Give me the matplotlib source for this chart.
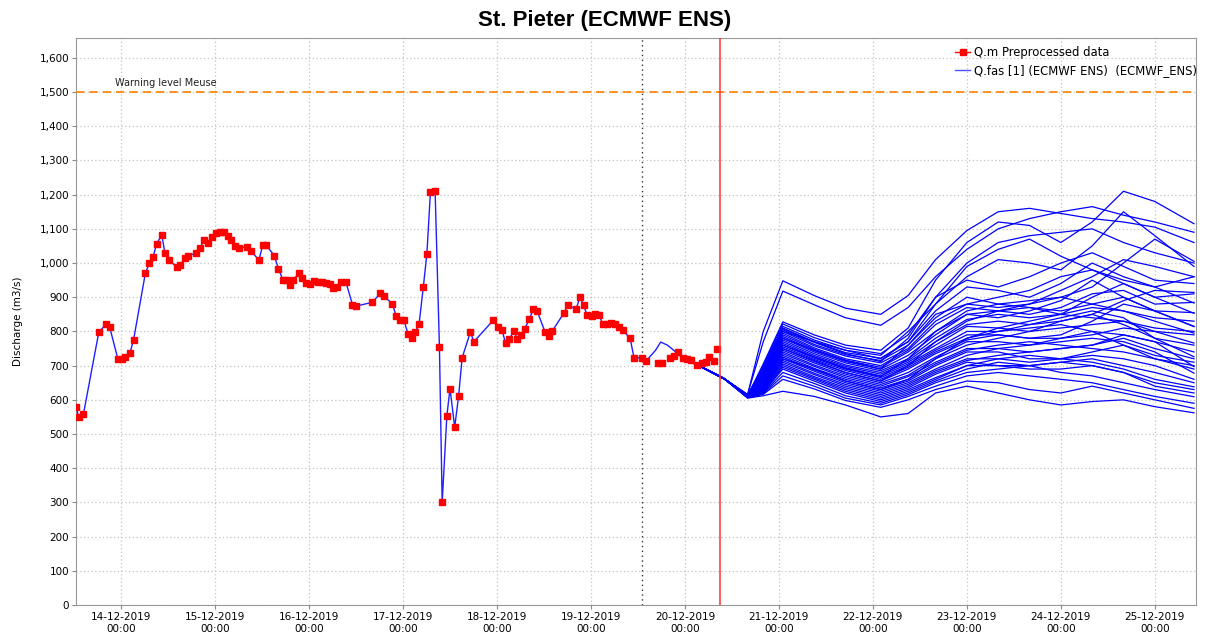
import matplotlib
matplotlib.use("Agg")
import matplotlib.pyplot as plt
import matplotlib.dates as mdates
from matplotlib.lines import Line2D
from matplotlib.ticker import FuncFormatter, MultipleLocator
import pandas as pd

# 관측 데이터 (14-12-2019 00:00 기준 시간)
base = pd.Timestamp("2019-12-14 00:00")
obs_hours = [-11.5, -10.8, -9.6, -5.7, -3.8, -2.9, -0.8, 0.3, 1.1, 2.3, 3.2,
             6.2, 7.2, 8.2, 9.1, 10.4, 11.2, 12.3, 14.2, 15.1, 16.3, 17.2,
             19.1, 20.2, 21.1, 22.2, 23.2, 24.2, 25.2, 26.2, 27.2, 28.1, 29.1,
             30.2, 32.2, 33.1, 35.2, 36.2, 37.0, 39.1, 40.2, 41.4, 42.1, 43.1,
             44.0, 45.4, 46.3, 47.2, 48.2, 49.3, 50.4, 51.3, 52.4, 53.4, 54.2,
             55.1, 56.1, 57.4, 59.1, 60.0, 64.1, 66.2, 67.1, 69.3, 70.2, 71.2,
             72.2, 73.3, 74.3, 75.1, 76.1, 77.2, 78.1, 79.0, 80.2, 81.3, 82.0,
             83.2, 84.0, 85.2, 86.2, 87.1, 89.2, 90.1, 95.0, 96.3, 97.3, 98.2,
             99.1, 100.3, 101.2, 102.2, 103.1, 104.2, 105.3, 106.2, 108.3, 109.2,
             110.1, 113.1, 114.1, 116.2, 117.2, 118.1, 119.0, 120.2, 121.1,
             122.0, 123.1, 124.1, 125.1, 126.1, 127.1, 128.1, 130.0, 131.0,
             133.1, 134.1, 137.2, 138.2, 140.3, 141.2, 142.1, 143.5, 144.6,
             145.5, 147.2, 148.4, 149.3, 150.1, 151.3, 152.2]
obs_values = [578, 549, 559, 797, 822, 812, 719, 719, 726, 738, 776,
              970, 999, 1019, 1057, 1082, 1029, 1009, 988, 994, 1015, 1022,
              1028, 1044, 1067, 1058, 1075, 1087, 1090, 1090, 1079, 1066, 1050,
              1044, 1048, 1036, 1009, 1053, 1053, 1022, 983, 949, 949, 936,
              951, 970, 955, 943, 939, 948, 946, 945, 942, 938, 927,
              931, 945, 945, 878, 874, 885, 911, 903, 881, 846, 834,
              834, 792, 781, 797, 822, 931, 1027, 1207, 1210, 755, 300,
              553, 633, 520, 611, 723, 798, 770, 832, 812, 804, 765,
              777, 801, 777, 791, 808, 835, 865, 861, 798, 788,
              801, 854, 877, 865, 901, 877, 848, 845, 850,
              848, 821, 821, 826, 821, 812, 804, 780, 723,
              723, 714, 707, 707, 723, 728, 740, 723, 720,
              717, 702, 709, 711, 726, 714, 748]

# 시뮬레이션 라인: 19-12 13:00 이후 관측과 다른 값
sim_until = 134.1
sim_extra_hours = [136.5, 137.8, 139.5, 140.5, 143.0, 145.0, 147.0]
sim_extra_values = [745, 769, 760, 751, 726, 712, 703]

# 앙상블 (20-12-2019 00:00 기준 시간)
ens_start = pd.Timestamp("2019-12-20 00:00")
ens_hours = [3, 10, 16, 20, 25, 33, 41, 50, 57, 64, 72, 80, 88, 96, 104, 112, 120, 130]
ens_members = [
    [703, 662, 615, 800, 948, 905, 868, 850, 905, 1010, 1095, 1150, 1160, 1145, 1130, 1120, 1105, 1060],
    [703, 662, 616, 770, 918, 878, 840, 818, 870, 960, 1040, 1100, 1130, 1150, 1165, 1140, 1120, 1090],
    [703, 662, 612, 705, 828, 790, 760, 745, 810, 950, 1060, 1120, 1110, 1060, 1120, 1210, 1180, 1115],
    [703, 662, 612, 700, 822, 782, 752, 735, 790, 900, 1000, 1060, 1080, 1090, 1100, 1060, 1030, 1000],
    [703, 662, 613, 695, 815, 775, 745, 730, 800, 880, 960, 1010, 1000, 980, 1050, 1150, 1080, 990],
    [703, 662, 614, 690, 810, 770, 738, 722, 770, 860, 930, 920, 900, 940, 1000, 960, 930, 960],
    [703, 662, 612, 685, 805, 762, 732, 715, 760, 840, 900, 880, 890, 900, 930, 1000, 1070, 1005],
    [703, 662, 611, 680, 800, 758, 728, 708, 750, 830, 880, 900, 920, 960, 980, 940, 900, 910],
    [703, 662, 613, 675, 795, 752, 720, 700, 745, 820, 870, 860, 850, 870, 910, 920, 880, 885],
    [703, 662, 612, 670, 790, 748, 716, 695, 740, 800, 860, 880, 870, 860, 880, 900, 860, 855],
    [703, 662, 611, 668, 785, 744, 712, 690, 730, 790, 850, 840, 860, 890, 950, 900, 860, 815],
    [703, 662, 612, 665, 780, 740, 708, 685, 720, 780, 835, 850, 840, 850, 870, 860, 830, 795],
    [703, 662, 611, 660, 775, 735, 702, 680, 715, 770, 820, 830, 820, 830, 850, 890, 920, 914],
    [703, 662, 610, 658, 770, 730, 698, 675, 710, 760, 815, 810, 800, 810, 820, 830, 800, 766],
    [703, 662, 612, 655, 765, 726, 694, 670, 705, 750, 800, 800, 820, 840, 860, 840, 780, 726],
    [703, 662, 611, 652, 760, 722, 690, 665, 700, 745, 790, 790, 780, 780, 790, 810, 800, 790],
    [703, 662, 610, 650, 755, 718, 686, 660, 695, 740, 780, 800, 810, 820, 800, 790, 770, 697],
    [703, 662, 612, 648, 750, 712, 680, 655, 690, 735, 775, 790, 780, 790, 830, 880, 860, 814],
    [703, 662, 611, 645, 745, 708, 675, 650, 680, 725, 770, 770, 760, 770, 780, 770, 740, 678],
    [703, 662, 610, 643, 740, 702, 670, 645, 672, 720, 760, 780, 800, 830, 850, 820, 780, 760],
    [703, 662, 611, 640, 735, 698, 665, 640, 668, 710, 750, 750, 740, 750, 760, 790, 770, 740],
    [703, 662, 610, 638, 730, 692, 660, 635, 660, 705, 745, 760, 770, 760, 750, 740, 720, 700],
    [703, 662, 609, 636, 725, 688, 655, 630, 655, 700, 740, 740, 720, 720, 740, 760, 730, 710],
    [703, 662, 610, 634, 720, 684, 650, 625, 650, 690, 730, 750, 760, 780, 800, 760, 720, 690],
    [703, 662, 609, 632, 715, 678, 645, 620, 645, 685, 720, 720, 710, 720, 730, 720, 700, 660],
    [703, 662, 608, 630, 710, 674, 640, 615, 640, 680, 715, 730, 740, 750, 760, 780, 750, 720],
    [703, 662, 609, 628, 705, 668, 635, 610, 635, 675, 710, 700, 700, 710, 720, 700, 680, 650],
    [703, 662, 608, 626, 700, 664, 630, 605, 630, 665, 700, 720, 730, 720, 710, 690, 660, 638],
    [703, 662, 607, 624, 695, 660, 625, 600, 625, 660, 700, 700, 690, 690, 700, 680, 650, 630],
    [703, 662, 608, 622, 690, 655, 620, 595, 620, 655, 690, 710, 700, 680, 670, 650, 630, 609],
    [703, 662, 607, 620, 680, 648, 612, 590, 615, 650, 680, 690, 700, 710, 700, 680, 640, 620],
    [703, 662, 606, 618, 670, 640, 605, 585, 610, 640, 670, 680, 670, 660, 650, 630, 610, 590],
    [703, 662, 606, 616, 660, 632, 598, 578, 600, 630, 655, 650, 630, 620, 640, 620, 600, 575],
    [703, 662, 605, 612, 625, 610, 585, 550, 560, 620, 640, 620, 600, 585, 595, 600, 580, 562],
    [703, 662, 611, 675, 800, 770, 745, 720, 770, 880, 990, 1040, 1070, 1020, 980, 950, 930, 883],
    [703, 662, 612, 680, 808, 768, 735, 712, 780, 900, 950, 930, 960, 1000, 1030, 990, 950, 940],
    [703, 662, 610, 660, 780, 745, 715, 690, 760, 850, 880, 870, 880, 920, 960, 1010, 990, 960],
    [703, 662, 609, 650, 760, 725, 692, 668, 720, 800, 850, 860, 880, 900, 880, 860, 840, 830],
    [703, 662, 611, 640, 750, 715, 680, 655, 700, 770, 830, 860, 870, 850, 840, 830, 810, 800],
    [703, 662, 610, 630, 720, 690, 655, 630, 660, 720, 780, 810, 830, 850, 900, 940, 900, 853],
]

warning_level = 1500
forecast_time = pd.Timestamp("2019-12-20 09:00")
state_time = pd.Timestamp("2019-12-19 13:00")

obs_t = base + pd.to_timedelta(obs_hours, unit="h")
sim_h = [h for h in obs_hours if h <= sim_until] + sim_extra_hours
sim_v = [v for h, v in zip(obs_hours, obs_values) if h <= sim_until] + sim_extra_values
sim_t = base + pd.to_timedelta(sim_h, unit="h")
ens_t = ens_start + pd.to_timedelta(ens_hours, unit="h")

fig = plt.figure(figsize=(12.09, 6.38), dpi=100)
ax = fig.add_axes([0.0629, 0.0517, 0.9263, 0.8887])

ax.grid(True, color="#c4c4c4", linestyle=(0, (1, 2)), linewidth=0.9)
ax.set_axisbelow(True)

for m in ens_members:
    ax.plot(ens_t, m, color="#0000ff", linewidth=0.9, zorder=2)
ax.plot(sim_t, sim_v, color="#2020ff", linewidth=1.0, zorder=3)
ax.plot(obs_t, obs_values, linestyle="none", marker="s", markersize=4.6,
        color="#ff0000", zorder=4)

ax.axhline(warning_level, color="#ff8000", linestyle=(0, (5, 3)), linewidth=1.2, zorder=3)
ax.text(base - pd.Timedelta(hours=1.6), warning_level + 12, "Warning level Meuse",
        fontsize=7, color="#202020", va="bottom")
ax.axvline(forecast_time, color="#ff3030", linewidth=1.1, zorder=5)
ax.axvline(state_time, color="#333333", linestyle=(0, (1, 2.5)), linewidth=1.0, zorder=3)

ax.set_xlim(base - pd.Timedelta(hours=11.5), base + pd.Timedelta(hours=274.5))
ax.set_ylim(0, 1658)
ax.yaxis.set_major_locator(MultipleLocator(100))
ax.yaxis.set_major_formatter(FuncFormatter(lambda v, p: f"{int(v):,}"))
ax.xaxis.set_major_locator(mdates.DayLocator())
ax.xaxis.set_major_formatter(mdates.DateFormatter("%d-%m-%Y\n%H:%M"))
ax.tick_params(labelsize=7.5, length=3, color="#888888", pad=2)
for s in ax.spines.values():
    s.set_color("#999999")

ax.set_ylabel("Discharge (m3/s)", fontsize=7.5, labelpad=12)
fig.suptitle("St. Pieter (ECMWF ENS)", fontsize=16, fontweight="bold",
             family="Liberation Sans", y=0.985)

handles = [Line2D([], [], color="#ff0000", marker="s", markersize=4, linewidth=1),
           Line2D([], [], color="#5050ff", linewidth=1)]
labels = ["Q.m Preprocessed data", "Q.fas [1] (ECMWF ENS)  (ECMWF_ENS)"]
ax.legend(handles, labels, loc="upper right", bbox_to_anchor=(1.008, 1.0),
          frameon=False, fontsize=8.4, handlelength=1.3, handletextpad=0.3,
          labelspacing=0.4, borderaxespad=0.3)

fig.savefig("out.png", dpi=100)
